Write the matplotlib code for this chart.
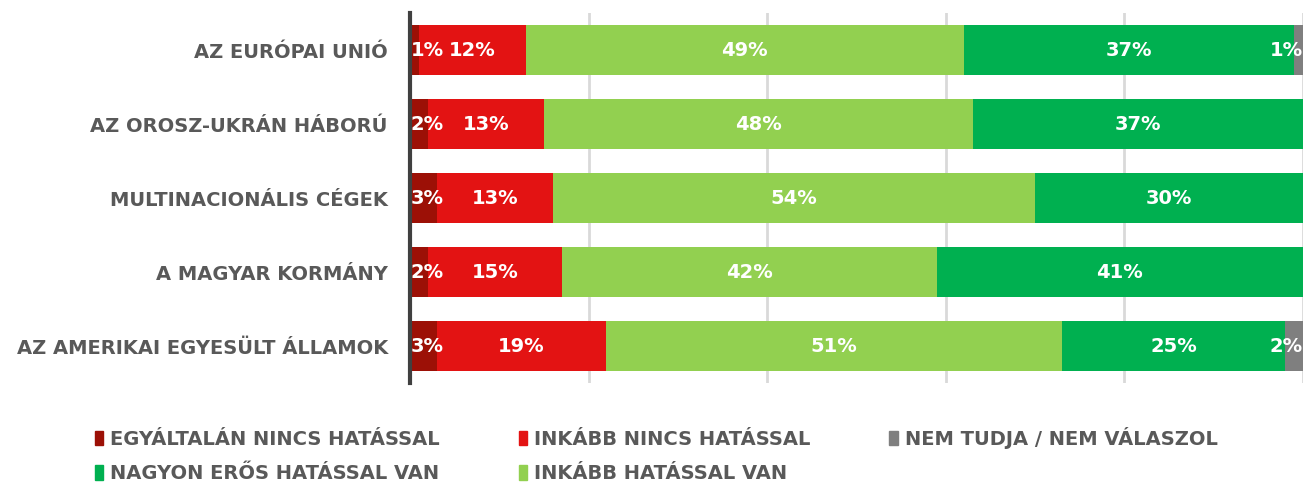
import matplotlib
matplotlib.use('Agg')
from matplotlib import pyplot as plt
from matplotlib.patches import Patch
import numpy as np

categories = ['AZ EURÓPAI UNIÓ', 'AZ OROSZ-UKRÁN HÁBORÚ', 'MULTINACIONÁLIS CÉGEK',
              'A MAGYAR KORMÁNY', 'AZ AMERIKAI EGYESÜLT ÁLLAMOK']
series_names = ['EGYÁLTALÁN NINCS HATÁSSAL', 'INKÁBB NINCS HATÁSSAL',
                'INKÁBB HATÁSSAL VAN', 'NAGYON ERŐS HATÁSSAL VAN',
                'NEM TUDJA / NEM VÁLASZOL']
egyaltalan = [1, 2, 3, 2, 3]
inkabb_nincs = [12, 13, 13, 15, 19]
inkabb_van = [49, 48, 54, 42, 51]
nagyon_eros = [37, 37, 30, 41, 25]
nem_tudja = [1, 0, 0, 0, 2]
colors = ['#9C1006', '#E31313', '#92D050', '#00B050', '#7F7F7F']

plt.rcParams['font.family'] = ['DejaVu Sans']
fs = 14

fig = plt.figure(figsize=(13.03, 4.83), dpi=100)
ax = fig.add_axes([410 / 1303, 1 - 383 / 483, 1 - 410 / 1303, (383 - 13) / 483])

series = [egyaltalan, inkabb_nincs, inkabb_van, nagyon_eros, nem_tudja]
y = np.arange(len(categories))
left = np.zeros(len(categories))
for k, (vals, col) in enumerate(zip(series, colors)):
    vals = np.array(vals, dtype=float)
    ax.barh(y, vals, left=left, height=0.67, color=col, zorder=3)
    for i, v in enumerate(vals):
        if v <= 0:
            continue
        if k == 0:
            x, ha = left[i] + 0.1, 'left'
        elif k == len(series) - 1:
            x, ha = left[i] + v, 'right'
        else:
            x, ha = left[i] + v / 2, 'center'
        ax.text(x, y[i], f'{int(v)}%', ha=ha, va='center', color='white',
                fontsize=fs, fontweight='bold', zorder=4)
    left += vals

ax.set_xlim(0, 100)
ax.set_ylim(4.5, -0.5)
ax.set_yticks(y)
ax.set_yticklabels(categories, fontsize=fs, fontweight='bold', color='#595959')
ax.tick_params(axis='y', length=0, pad=16)
ax.set_xticks([20, 40, 60, 80, 100])
ax.tick_params(axis='x', length=0, labelbottom=False)
ax.grid(axis='x', color='#D9D9D9', linewidth=2, zorder=0)
for s in ['top', 'right', 'bottom']:
    ax.spines[s].set_visible(False)
ax.spines['left'].set_color('#404040')
ax.spines['left'].set_linewidth(3)
ax.spines['left'].set_zorder(5)

order = [0, 3, 1, 2, 4]
handles = [Patch(color=colors[i], label=series_names[i]) for i in order]
fig.legend(handles=handles, loc='upper left', bbox_to_anchor=(85 / 1303, 1 - 417 / 483),
           ncol=3, frameon=False, borderpad=0, handlelength=0.45, handleheight=0.75,
           handletextpad=0.35, columnspacing=4.05, labelspacing=0.8,
           prop={'weight': 'bold', 'size': fs}, labelcolor='#595959')

fig.savefig('out.png', dpi=100)
